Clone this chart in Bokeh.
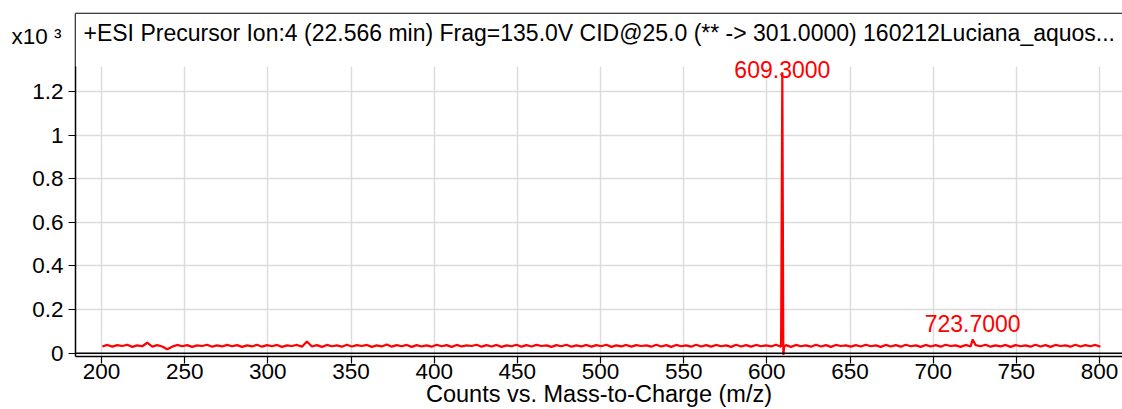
from bokeh.plotting import figure
from bokeh.models import (Range1d, LinearAxis, FixedTicker, CustomJSTickFormatter,
                          Label, BoxAnnotation, Span)
from bokeh.embed import file_html
from bokeh.resources import INLINE

FONT = "Liberation Sans"

# ---- data -------------------------------------------------------------
title_text = ("+ESI Precursor Ion:4 (22.566 min) Frag=135.0V CID@25.0 "
              "(** -> 301.0000) 160212Luciana_aquos...")
x_label = "Counts vs. Mass-to-Charge (m/z)"
scale_label = "x10 \u00b3"

x_ticks = [200, 250, 300, 350, 400, 450, 500, 550, 600, 650, 700, 750, 800]
y_ticks = [0, 0.2, 0.4, 0.6, 0.8, 1.0, 1.2]

# baseline noise, sampled every 3 m/z starting at 200.5 (counts)
baseline_start = 200.5
baseline_step = 3.0
baseline_counts = [
    31, 38, 30, 37, 33, 39, 29, 36, 32, 48, 30, 37, 31, 18, 30, 38, 32, 37, 29, 36,
    33, 39, 30, 36, 31, 38, 32, 37, 29, 36, 31, 39, 30, 37, 32, 38, 29, 36, 33, 38,
    30, 54, 31, 37, 29, 38, 32, 36, 30, 39, 31, 37, 33, 38, 29, 36, 31, 40, 30, 37,
    32, 38, 29, 37, 31, 36, 30, 39, 32, 37, 29, 38, 31, 36, 33, 39, 30, 37, 31, 38,
    29, 36, 32, 39, 30, 37, 31, 38, 33, 36, 29, 37, 32, 39, 30, 36, 31, 38, 30, 37,
    32, 39, 29, 36, 31, 38, 30, 37, 33, 36, 30, 39, 31, 37, 29, 38, 32, 36, 30, 39,
    31, 37, 30, 38, 32, 36, 29, 39, 31, 37, 30, 38, 32, 36, 31, 39, 30, 37, 29, 38,
    32, 36, 30, 39, 31, 37, 29, 38, 33, 36, 30, 37, 31, 39, 32, 36, 29, 38, 31, 37,
    30, 39, 32, 36, 29, 38, 31, 37, 30, 39, 33, 36, 29, 38, 31, 37, 32, 39, 30, 36,
    31, 38, 29, 37, 32, 36, 30, 39, 31, 37, 29, 38, 33, 36, 30, 39, 31, 37, 32, 38, 30,
]

# ion signals (m/z, counts)
peak_mz = [608.6, 609.3, 609.9, 610.4, 723.7]
peak_counts = [112, 1288, -8, 30, 63]

# peaks that carry an m/z annotation, with their vertical label offsets (px)
labelled_mz = [609.3, 723.7]
label_offsets = [3, 16]

COUNTS_PER_UNIT = 1000.0  # y axis is shown in units of 10^3 counts

# ---- assemble spectrum --------------------------------------------------
baseline_mz = [baseline_start + i * baseline_step for i in range(len(baseline_counts))]
points = sorted(list(zip(baseline_mz, baseline_counts)) + list(zip(peak_mz, peak_counts)))
spec_x = [m for m, _ in points]
spec_y = [c / COUNTS_PER_UNIT for _, c in points]

# ---- figure --------------------------------------------------------------
Y_TOP = 1.5575
p = figure(width=1122, height=409, title=None,
           x_range=Range1d(184.37, 813.8), y_range=Range1d(-0.0151, Y_TOP),
           output_backend="svg", toolbar_location=None,
           min_border_left=75, min_border_right=0,
           min_border_top=13, min_border_bottom=53)
p.outline_line_color = None
p.background_fill_color = "white"
p.border_fill_color = "white"

xa = p.xaxis[0]
xa.ticker = FixedTicker(ticks=x_ticks)
xa.major_label_text_font_size = "22.5px"
xa.major_label_standoff = 0
xa.axis_label = x_label
xa.axis_label_text_font = FONT
xa.axis_label_text_font_size = "23.5px"
xa.axis_label_text_font_style = "normal"
xa.axis_label_text_color = "black"
xa.axis_label_standoff = -1

ya = p.yaxis[0]
ya.ticker = FixedTicker(ticks=y_ticks)
ya.formatter = CustomJSTickFormatter(code="return String(Number(tick.toFixed(1)));")
ya.major_label_text_font_size = "22.5px"
ya.major_label_standoff = 5

for ax in (xa, ya):
    ax.major_tick_out = 7
    ax.major_tick_in = 0
    ax.minor_tick_out = 0
    ax.minor_tick_in = 0
    ax.axis_line_color = "black"
    ax.axis_line_width = 1.5
    ax.major_tick_line_color = "black"
    ax.major_tick_line_width = 1.2
    ax.major_label_text_font = FONT
    ax.major_label_text_color = "black"

# exponent marker at the top of the y scale
scale_axis = LinearAxis(ticker=FixedTicker(ticks=[1.45]),
                        formatter=CustomJSTickFormatter(code=f"return '{scale_label}';"),
                        axis_line_color=None, major_tick_out=0, major_tick_in=0,
                        minor_tick_out=0, minor_tick_in=0, major_label_standoff=-32,
                        major_label_text_font=FONT, major_label_text_font_size="22.5px",
                        major_label_text_color="black")
p.add_layout(scale_axis, "left")

# plain top rule of the frame
top = LinearAxis(ticker=FixedTicker(ticks=[]), major_tick_out=0, major_tick_in=0,
                 minor_tick_out=0, minor_tick_in=0, axis_line_color="black",
                 axis_line_width=1.5, major_label_standoff=0)
p.add_layout(top, "above")

p.grid.grid_line_color = "#dcdcdc"
p.grid.grid_line_width = 1.5

# spectrum trace
p.line(spec_x, spec_y, line_color="#ff0000", line_width=2.2)

# zero rule just above the x axis
p.add_layout(Span(location=0, dimension="width", line_color="black", line_width=1.5))

# header band inside the frame (hides grid lines behind the title)
p.add_layout(BoxAnnotation(bottom=1.314, top=None, left=None, right=None,
                           fill_color="white", fill_alpha=1.0, line_color=None))

p.add_layout(Label(x=8, y=Y_TOP - 0.1, y_offset=2, x_units="screen", y_units="data",
                   text=title_text, text_font=FONT, text_font_size="23px",
                   text_color="black", text_baseline="middle", text_align="left"))

# peak annotations
lookup = dict(zip(peak_mz, peak_counts))
for mz, off in zip(labelled_mz, label_offsets):
    p.add_layout(Label(x=mz, y=lookup[mz] / COUNTS_PER_UNIT, y_offset=off,
                       text=f"{mz:.4f}", text_font=FONT, text_font_size="23px",
                       text_color="#ff0000", text_align="center",
                       text_baseline="middle"))

open("out.html", "w").write(file_html(p, INLINE))
